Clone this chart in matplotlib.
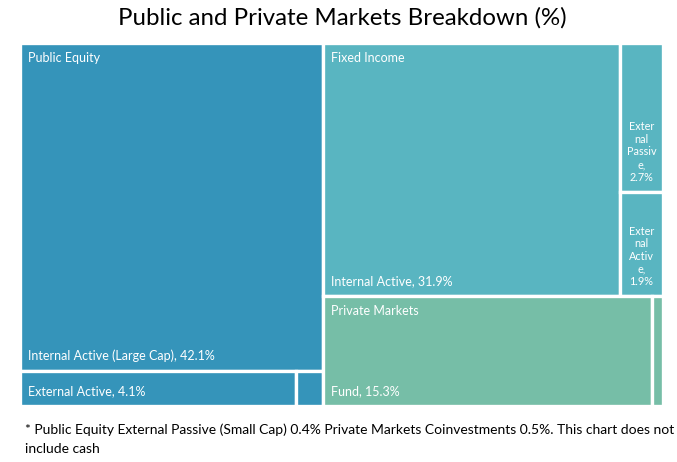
import matplotlib
matplotlib.use("Agg")
import matplotlib.pyplot as plt
from matplotlib.patches import Rectangle

# ---- data ----
groups = ["Public Equity", "Fixed Income", "Private Markets"]
pe_labels = ["Internal Active (Large Cap)", "External Active", "External Passive (Small Cap)"]
pe_values = [42.1, 4.1, 0.4]
fi_labels = ["Internal Active", "External Passive", "External Active"]
fi_values = [31.9, 2.7, 1.9]
pm_labels = ["Fund", "Coinvestments"]
pm_values = [15.3, 0.5]
group_colors = ["#3594BA", "#59B5C1", "#76BEA7"]
title = "Public and Private Markets Breakdown (%)"
footnote = ("* Public Equity External Passive (Small Cap) 0.4% Private Markets Coinvestments 0.5%. This chart does not\n"
            "include cash")

plt.rcParams['font.family'] = ['Lato', 'DejaVu Sans']

W, H = 677, 462
fig = plt.figure(figsize=(W / 100, H / 100), dpi=100)
x0, x1, y0, y1 = 20, 663, 43, 406
ax = fig.add_axes([x0 / W, 1 - y1 / H, (x1 - x0) / W, (y1 - y0) / H])
ax.set_xlim(0, 1)
ax.set_ylim(0, 1)
ax.invert_yaxis()
ax.axis("off")

pe_tot = sum(pe_values)
fi_tot = sum(fi_values)
pm_tot = sum(pm_values)
total = pe_tot + fi_tot + pm_tot

rects = []  # (x, y, w, h, color, label, kind)
pe_w = pe_tot / total
h_top = pe_values[0] / pe_tot
rects.append((0, 0, pe_w, h_top, group_colors[0], f"{pe_labels[0]}, {pe_values[0]}%", "bl"))
rest = pe_values[1] + pe_values[2]
w1 = pe_w * pe_values[1] / rest
rects.append((0, h_top, w1, 1 - h_top, group_colors[0], f"{pe_labels[1]}, {pe_values[1]}%", "bl"))
rects.append((w1, h_top, pe_w - w1, 1 - h_top, group_colors[0], "", "none"))

rx = pe_w
rw = 1 - pe_w
fi_h = fi_tot / (fi_tot + pm_tot)
fw0 = rw * fi_values[0] / fi_tot
rects.append((rx, 0, fw0, fi_h, group_colors[1], f"{fi_labels[0]}, {fi_values[0]}%", "bl"))
side = fi_values[1] + fi_values[2]
sh1 = fi_h * fi_values[1] / side
rects.append((rx + fw0, 0, rw - fw0, sh1, group_colors[1], f"Exter\nnal\nPassiv\ne,\n{fi_values[1]}%", "bc"))
rects.append((rx + fw0, sh1, rw - fw0, fi_h - sh1, group_colors[1], f"Exter\nnal\nActiv\ne,\n{fi_values[2]}%", "bc"))
pw0 = rw * pm_values[0] / pm_tot
rects.append((rx, fi_h, pw0, 1 - fi_h, group_colors[2], f"{pm_labels[0]}, {pm_values[0]}%", "bl"))
rects.append((rx + pw0, fi_h, rw - pw0, 1 - fi_h, group_colors[2], "", "none"))

pxw = x1 - x0
pxh = y1 - y0
for (x, y, w, h, c, lab, kind) in rects:
    ax.add_patch(Rectangle((x, y), w, h, facecolor=c, edgecolor="white", linewidth=2.4))
    if kind == "bl":
        ax.text(x + 8 / pxw, y + h - 9 / pxh, lab, color="white", fontsize=9,
                ha="left", va="bottom")
    elif kind == "bc":
        ax.text(x + w / 2, y + h - 9 / pxh, lab, color="white", fontsize=7.8,
                ha="center", va="bottom", multialignment="center", linespacing=1.18)

group_pos = [(0, 0), (rx, 0), (rx, fi_h)]
for g, (gx, gy) in zip(groups, group_pos):
    ax.text(gx + 8 / pxw, gy + 9 / pxh, g, color="white", fontsize=9, ha="left", va="top")

fig.text(0.505, 1 - 18 / H, title, ha="center", va="center", fontsize=17.3, color="#000000")
fig.text(25 / W, 1 - 423 / H, footnote, ha="left", va="top", fontsize=10,
         color="#000000", linespacing=1.75)

fig.savefig("out.png", dpi=100)
